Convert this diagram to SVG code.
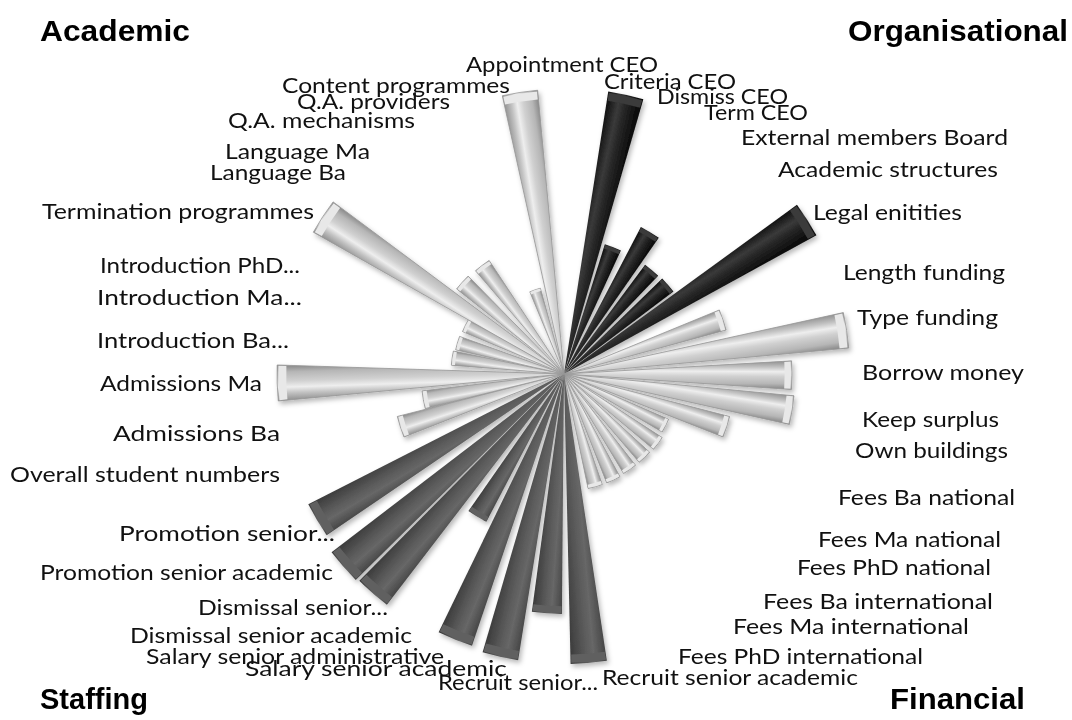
<svg xmlns="http://www.w3.org/2000/svg" xmlns:xlink="http://www.w3.org/1999/xlink" width="1072" height="720" viewBox="0 0 1072 720">
<style>
.lbl{font-family:Lato,"Open Sans","Liberation Sans",sans-serif;font-size:21px;fill:#111}
.hdr{font-family:"Liberation Sans",Arial,sans-serif;font-size:30px;font-weight:bold;fill:#000}
.ol{vector-effect:non-scaling-stroke;stroke-width:0.8}
</style>
<defs>
<filter id="sh" x="-20%" y="-20%" width="140%" height="140%">
<feDropShadow dx="2" dy="3" stdDeviation="2.5" flood-color="#000" flood-opacity="0.28"/>
</filter>
<linearGradient id="gL" x1="0" y1="0" x2="1" y2="0">
<stop offset="0" stop-color="#8e8e8e"/>
<stop offset="0.22" stop-color="#c2c2c2"/>
<stop offset="0.38" stop-color="#eeeeee"/>
<stop offset="0.55" stop-color="#d0d0d0"/>
<stop offset="0.8" stop-color="#b6b6b6"/>
<stop offset="1" stop-color="#848484"/>
</linearGradient>
<linearGradient id="gK" x1="0" y1="0" x2="1" y2="0">
<stop offset="0" stop-color="#0d0d0d"/>
<stop offset="0.35" stop-color="#3a3a3a"/>
<stop offset="0.55" stop-color="#262626"/>
<stop offset="1" stop-color="#050505"/>
</linearGradient>
<linearGradient id="gD" x1="0" y1="0" x2="1" y2="0">
<stop offset="0" stop-color="#444444"/>
<stop offset="0.35" stop-color="#676767"/>
<stop offset="0.6" stop-color="#585858"/>
<stop offset="1" stop-color="#3a3a3a"/>
</linearGradient>
<g id="wL">
<path class="ol" d="M0,0 L-6.28,-99.8 A100,100 0 0 1 6.28,-99.8 Z" fill="url(#gL)" stroke="#959595"/>
<path d="M-6.0,-99.4 A99.6,99.6 0 0 1 6.0,-99.4 L5.8,-96.6 A96.8,96.8 0 0 0 -5.8,-96.6 Z" fill="#e8e8e8"/>
</g>
<g id="wK">
<path d="M0,0 L-6.28,-99.8 A100,100 0 0 1 6.28,-99.8 Z" fill="url(#gK)"/>
<path d="M-6.0,-99.4 A99.6,99.6 0 0 1 6.0,-99.4 L5.8,-96.6 A96.8,96.8 0 0 0 -5.8,-96.6 Z" fill="#3a3a3a"/>
</g>
<g id="wD">
<path d="M0,0 L-6.28,-99.8 A100,100 0 0 1 6.28,-99.8 Z" fill="url(#gD)"/>
<path d="M-6.0,-99.4 A99.6,99.6 0 0 1 6.0,-99.4 L5.8,-96.6 A96.8,96.8 0 0 0 -5.8,-96.6 Z" fill="#616161"/>
</g>
</defs>
<rect width="1072" height="720" fill="#fff"/>
<g id="wedges" filter="url(#sh)">
<use id="w-criteria-ceo" href="#wK" transform="translate(564,374) rotate(12.5) scale(2.86)"/>
<use id="w-dismiss-ceo" href="#wK" transform="translate(564,374) rotate(21.1) scale(1.36)"/>
<use id="w-term-ceo" href="#wK" transform="translate(564,374) rotate(31.2) scale(1.66)"/>
<use id="w-external-board" href="#wK" transform="translate(564,374) rotate(40.2) scale(1.36)"/>
<use id="w-academic-structures" href="#wK" transform="translate(564,374) rotate(49.4) scale(1.37)"/>
<use id="w-legal-entities" href="#wK" transform="translate(564,374) rotate(57.6) scale(2.88)"/>
<use id="w-length-funding" href="#wL" transform="translate(564,374) rotate(71.2) scale(1.68)"/>
<use id="w-type-funding" href="#wL" transform="translate(564,374) rotate(81.2) scale(2.86)"/>
<use id="w-borrow-money" href="#wL" transform="translate(564,374) rotate(90.3) scale(2.28)"/>
<use id="w-keep-surplus" href="#wL" transform="translate(564,374) rotate(99) scale(2.31)"/>
<use id="w-own-buildings" href="#wL" transform="translate(564,374) rotate(108) scale(1.71)"/>
<use id="w-fees-ba-nat" href="#wL" transform="translate(564,374) rotate(117) scale(1.14)"/>
<use id="w-fees-ma-nat" href="#wL" transform="translate(564,374) rotate(126.5) scale(1.17)"/>
<use id="w-fees-phd-nat" href="#wL" transform="translate(564,374) rotate(136) scale(1.16)"/>
<use id="w-fees-ba-int" href="#wL" transform="translate(564,374) rotate(145.5) scale(1.16)"/>
<use id="w-fees-ma-int" href="#wL" transform="translate(564,374) rotate(155) scale(1.17)"/>
<use id="w-fees-phd-int" href="#wL" transform="translate(564,374) rotate(164.5) scale(1.17)"/>
<use id="w-recruit-sa" href="#wD" transform="translate(564,374) rotate(175.1) scale(2.90)"/>
<use id="w-recruit-s" href="#wD" transform="translate(564,374) rotate(184.1) scale(2.40)"/>
<use id="w-salary-sa" href="#wD" transform="translate(564,374) rotate(192.7) scale(2.90)"/>
<use id="w-salary-sadm" href="#wD" transform="translate(564,374) rotate(202.3) scale(2.87)"/>
<use id="w-dismissal-sa" href="#wD" transform="translate(564,374) rotate(211.3) scale(1.67)"/>
<use id="w-dismissal-s" href="#wD" transform="translate(564,374) rotate(221.1) scale(2.91)"/>
<use id="w-promotion-sa" href="#wD" transform="translate(564,374) rotate(228.9) scale(2.93)"/>
<use id="w-promotion-s" href="#wD" transform="translate(564,374) rotate(239.4) scale(2.87)"/>
<use id="w-overall-students" href="#wL" transform="translate(564,374) rotate(252.1) scale(1.72)"/>
<use id="w-admissions-ba" href="#wL" transform="translate(564,374) rotate(259.6) scale(1.43)"/>
<use id="w-admissions-ma" href="#wL" transform="translate(564,374) rotate(268.2) scale(2.87)"/>
<use id="w-intro-ba" href="#wL" transform="translate(564,374) rotate(278.1) scale(1.13)"/>
<use id="w-intro-ma" href="#wL" transform="translate(564,374) rotate(286.2) scale(1.11)"/>
<use id="w-intro-phd" href="#wL" transform="translate(564,374) rotate(296.3) scale(1.10)"/>
<use id="w-termination" href="#wL" transform="translate(564,374) rotate(303.1) scale(2.88)"/>
<use id="w-language-ba" href="#wL" transform="translate(564,374) rotate(312) scale(1.37)"/>
<use id="w-language-ma" href="#wL" transform="translate(564,374) rotate(323) scale(1.36)"/>
<use id="w-qa-providers" href="#wL" transform="translate(564,374) rotate(341) scale(0.89)"/>
<use id="w-content-programmes" href="#wL" transform="translate(564,374) rotate(351.1) scale(2.85)"/>
</g>
<g id="labels">
<text class="lbl" x="466" y="72" textLength="192" lengthAdjust="spacingAndGlyphs">Appointment CEO</text>
<text class="lbl" x="604" y="89" textLength="132" lengthAdjust="spacingAndGlyphs">Criteria CEO</text>
<text class="lbl" x="657" y="104" textLength="131" lengthAdjust="spacingAndGlyphs">Dismiss CEO</text>
<text class="lbl" x="704" y="120" textLength="104" lengthAdjust="spacingAndGlyphs">Term CEO</text>
<text class="lbl" x="741" y="145" textLength="267" lengthAdjust="spacingAndGlyphs">External members Board</text>
<text class="lbl" x="778" y="177" textLength="220" lengthAdjust="spacingAndGlyphs">Academic structures</text>
<text class="lbl" x="813" y="220" textLength="149" lengthAdjust="spacingAndGlyphs">Legal enitities</text>
<text class="lbl" x="843" y="280" textLength="162" lengthAdjust="spacingAndGlyphs">Length funding</text>
<text class="lbl" x="857" y="325" textLength="141" lengthAdjust="spacingAndGlyphs">Type funding</text>
<text class="lbl" x="862" y="380" textLength="162" lengthAdjust="spacingAndGlyphs">Borrow money</text>
<text class="lbl" x="862" y="427" textLength="137" lengthAdjust="spacingAndGlyphs">Keep surplus</text>
<text class="lbl" x="855" y="458" textLength="153" lengthAdjust="spacingAndGlyphs">Own buildings</text>
<text class="lbl" x="838" y="505" textLength="177" lengthAdjust="spacingAndGlyphs">Fees Ba national</text>
<text class="lbl" x="818" y="547" textLength="183" lengthAdjust="spacingAndGlyphs">Fees Ma national</text>
<text class="lbl" x="797" y="575" textLength="194" lengthAdjust="spacingAndGlyphs">Fees PhD national</text>
<text class="lbl" x="763" y="609" textLength="230" lengthAdjust="spacingAndGlyphs">Fees Ba international</text>
<text class="lbl" x="733" y="634" textLength="236" lengthAdjust="spacingAndGlyphs">Fees Ma international</text>
<text class="lbl" x="678" y="664" textLength="245" lengthAdjust="spacingAndGlyphs">Fees PhD international</text>
<text class="lbl" x="602" y="685" textLength="256" lengthAdjust="spacingAndGlyphs">Recruit senior academic</text>
<text class="lbl" x="438" y="690" textLength="160" lengthAdjust="spacingAndGlyphs">Recruit senior...</text>
<text class="lbl" x="245" y="676" textLength="262" lengthAdjust="spacingAndGlyphs">Salary senior academic</text>
<text class="lbl" x="146" y="664" textLength="298" lengthAdjust="spacingAndGlyphs">Salary senior administrative</text>
<text class="lbl" x="130" y="643" textLength="282" lengthAdjust="spacingAndGlyphs">Dismissal senior academic</text>
<text class="lbl" x="198" y="615" textLength="190" lengthAdjust="spacingAndGlyphs">Dismissal senior...</text>
<text class="lbl" x="40" y="580" textLength="293" lengthAdjust="spacingAndGlyphs">Promotion senior academic</text>
<text class="lbl" x="119" y="541" textLength="216" lengthAdjust="spacingAndGlyphs">Promotion senior...</text>
<text class="lbl" x="10" y="482" textLength="270" lengthAdjust="spacingAndGlyphs">Overall student numbers</text>
<text class="lbl" x="113" y="441" textLength="167" lengthAdjust="spacingAndGlyphs">Admissions Ba</text>
<text class="lbl" x="100" y="391" textLength="162" lengthAdjust="spacingAndGlyphs">Admissions Ma</text>
<text class="lbl" x="97" y="348" textLength="192" lengthAdjust="spacingAndGlyphs">Introduction Ba...</text>
<text class="lbl" x="97" y="305" textLength="205" lengthAdjust="spacingAndGlyphs">Introduction Ma...</text>
<text class="lbl" x="100" y="273" textLength="200" lengthAdjust="spacingAndGlyphs">Introduction PhD...</text>
<text class="lbl" x="42" y="219" textLength="272" lengthAdjust="spacingAndGlyphs">Termination programmes</text>
<text class="lbl" x="210" y="180" textLength="136" lengthAdjust="spacingAndGlyphs">Language Ba</text>
<text class="lbl" x="225" y="159" textLength="145" lengthAdjust="spacingAndGlyphs">Language Ma</text>
<text class="lbl" x="228" y="128" textLength="187" lengthAdjust="spacingAndGlyphs">Q.A. mechanisms</text>
<text class="lbl" x="297" y="109" textLength="153" lengthAdjust="spacingAndGlyphs">Q.A. providers</text>
<text class="lbl" x="282" y="93" textLength="228" lengthAdjust="spacingAndGlyphs">Content programmes</text>
</g>
<g id="headers">
<text class="hdr" x="40" y="41" textLength="150" lengthAdjust="spacingAndGlyphs">Academic</text>
<text class="hdr" x="848" y="41" textLength="220" lengthAdjust="spacingAndGlyphs">Organisational</text>
<text class="hdr" x="40" y="709" textLength="108" lengthAdjust="spacingAndGlyphs">Staffing</text>
<text class="hdr" x="890" y="709" textLength="135" lengthAdjust="spacingAndGlyphs">Financial</text>
</g>
</svg>
